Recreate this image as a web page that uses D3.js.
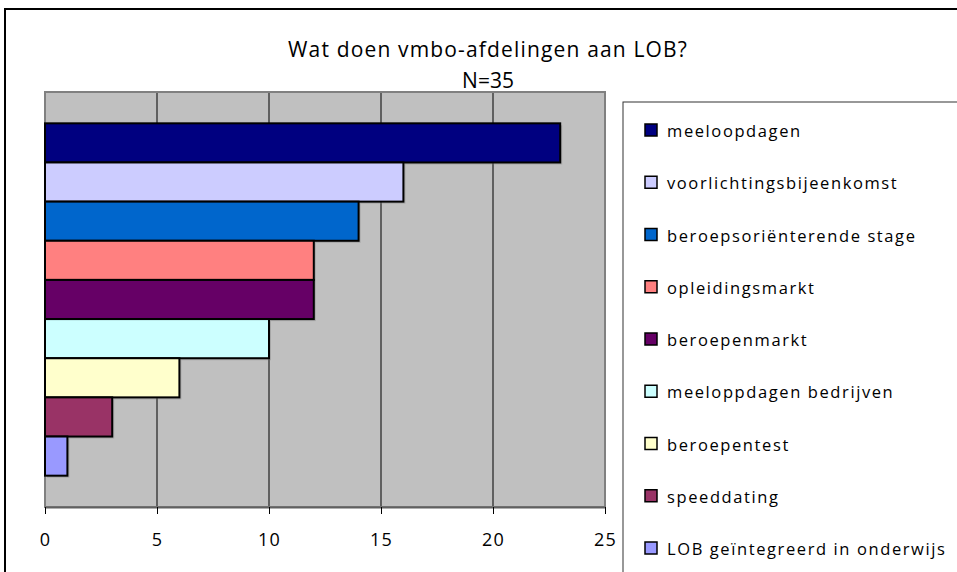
<!DOCTYPE html>
<html><head><meta charset="utf-8">
<script src="https://cdn.jsdelivr.net/npm/d3@7"></script>
<style>body{margin:0;background:#fff}text{font-family:"Open Sans",sans-serif}</style>
</head><body><svg id="c" width="957" height="572"></svg>
<script>
const categories = ["meeloopdagen","voorlichtingsbijeenkomst","beroepsoriënterende stage","opleidingsmarkt","beroepenmarkt","meeloppdagen bedrijven","beroepentest","speeddating","LOB geïntegreerd in onderwijs"];
const values = [23,16,14,12,12,10,6,3,1];
const colors = ["#000080","#CCCCFF","#0066CC","#FF8080","#660066","#CCFFFF","#FFFFCC","#993366","#9999FF"];
const xTicks = [0,5,10,15,20,25];
const title = "Wat doen vmbo-afdelingen aan LOB?";
const subtitle = "N=35";

const svg = d3.select("#c");
// outer frame
svg.append("rect").attr("x",5).attr("y",9).attr("width",1100).attr("height",1000)
  .attr("fill","#fff").attr("stroke","#000").attr("stroke-width",2);

const L=45,R=605,T=92,B=507;
const x = d3.scaleLinear().domain([0,25]).range([L,R]);
const y = d3.scaleBand().domain(categories).range([T,B]).paddingInner(0).paddingOuter(0.8);

svg.append("rect").attr("x",L).attr("y",T).attr("width",R-L).attr("height",B-T).attr("fill","#C0C0C0");
// grid
svg.append("g").selectAll("line").data(xTicks.filter(d=>d>0&&d<25)).join("line")
  .attr("x1",d=>x(d)).attr("x2",d=>x(d)).attr("y1",T).attr("y2",B)
  .attr("stroke","#000").attr("stroke-width",1);
svg.append("rect").attr("x",L).attr("y",T).attr("width",R-L).attr("height",B-T)
  .attr("fill","none").attr("stroke","#808080").attr("stroke-width",2);

// bars
const g = svg.append("g");
g.selectAll("rect.sh").data(values).join("rect")
  .attr("x",L+2).attr("y",(d,i)=>y(categories[i])+2)
  .attr("width",d=>x(d)-L).attr("height",y.bandwidth())
  .attr("fill","#808080").attr("opacity",0.4);
g.selectAll("rect.b").data(values).join("rect")
  .attr("x",L).attr("y",(d,i)=>y(categories[i]))
  .attr("width",d=>x(d)-L).attr("height",y.bandwidth())
  .attr("fill",(d,i)=>colors[i]).attr("stroke","#000").attr("stroke-width",2);

// axis
const ax = svg.append("g").attr("transform",`translate(0,${B})`)
  .call(d3.axisBottom(x).tickValues(xTicks).tickSize(7).tickPadding(19).tickSizeOuter(0));
ax.select(".domain").attr("stroke","#606060").attr("stroke-width",2);
ax.selectAll(".tick line").attr("stroke","#000");
ax.selectAll(".tick text").attr("font-size",18).attr("fill","#000").attr("font-family","Open Sans").attr("letter-spacing",1.2);

// titles
function fit(sel, target){
  const n = sel.text().length;
  const w = sel.node().getComputedTextLength();
  sel.attr("letter-spacing", (target - w)/n);
}
const t1 = svg.append("text").attr("x",488).attr("y",57).attr("text-anchor","middle")
  .attr("font-size",21).text(title);
fit(t1, 400);
svg.append("text").attr("x",488).attr("y",88).attr("text-anchor","middle")
  .attr("font-size",21).text(subtitle);

// legend
svg.append("rect").attr("x",623).attr("y",102).attr("width",400).attr("height",500)
  .attr("fill","#fff").attr("stroke","#333").attr("stroke-width",1);
const lg = svg.append("g").selectAll("g").data(categories).join("g")
  .attr("transform",(d,i)=>`translate(645,${130+i*52.25})`);
lg.append("rect").attr("x",0).attr("y",-6).attr("width",12).attr("height",12)
  .attr("fill",(d,i)=>colors[i]).attr("stroke","#000").attr("stroke-width",1.5);
lg.append("text").attr("x",22).attr("y",7).attr("font-size",16.5).attr("letter-spacing",1.6).text(d=>d);
</script></body></html>
